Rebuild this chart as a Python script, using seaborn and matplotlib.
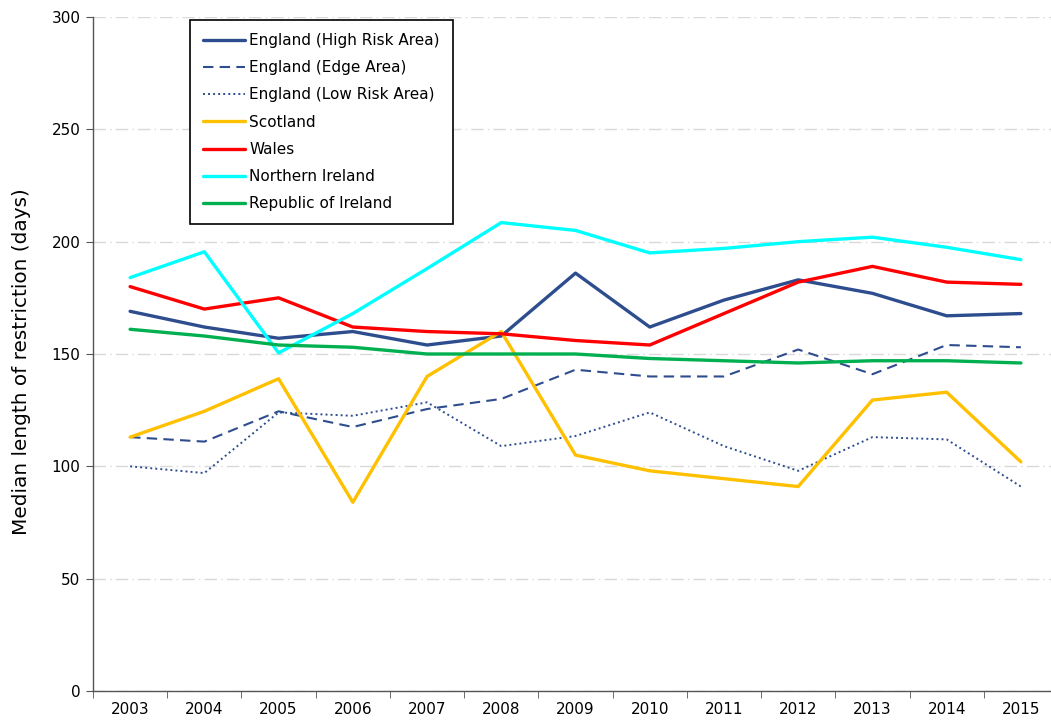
import numpy as np
import pandas as pd
import matplotlib
matplotlib.use('Agg')
import matplotlib.pyplot as plt
import seaborn as sns

years = [2003, 2004, 2005, 2006, 2007, 2008, 2009, 2010, 2011, 2012, 2013, 2014, 2015]

eng_high = [169, 162, 157, 160, 154, 158, 186, 162, 174, 183, 177, 167, 168]
eng_edge = [113, 111, 124.5, 117.5, 125.5, 130, 143, 140, 140, 152, 141, 154, 153]
eng_low = [100, 97, 124, 122.5, 128.5, 109, 113.5, 124, 109, 98, 113, 112, 91]
scotland = [113, 124.5, 139, 84, 140, 160, 105, 98, 94.5, 91, 129.5, 133, 102]
wales = [180, 170, 175, 162, 160, 159, 156, 154, 168, 182, 189, 182, 181]
n_ireland = [184, 195.5, 150.5, 168, 188, 208.5, 205, 195, 197, 200, 202, 197.5, 192]
r_ireland = [161, 158, 154, 153, 150, 150, 150, 148, 147, 146, 147, 147, 146]

series_names = ['England (High Risk Area)', 'England (Edge Area)', 'England (Low Risk Area)',
                'Scotland', 'Wales', 'Northern Ireland', 'Republic of Ireland']
series_vals = [eng_high, eng_edge, eng_low, scotland, wales, n_ireland, r_ireland]
colors = ['#2E4D8E', '#2E4D8E', '#2E4D8E', '#FFC000', '#FF0000', '#00FFFF', '#00B050']
styles = ['-', (0, (5, 3)), (0, (1, 1.6)), '-', '-', '-', '-']
widths = [2.4, 1.5, 1.4, 2.4, 2.4, 2.4, 2.4]

sns.set_style('white')
plt.rcParams['font.family'] = ['DejaVu Sans']
plt.rcParams['text.color'] = 'black'
plt.rcParams['axes.labelcolor'] = 'black'
plt.rcParams['xtick.color'] = 'black'
plt.rcParams['ytick.color'] = 'black'

fig = plt.figure(figsize=(10.51, 7.23), dpi=100)
ax = fig.add_axes([93 / 1051, 32 / 723, 965 / 1051, 674 / 723])

pos = np.arange(len(years))
for name, vals, c, ls, lw in zip(series_names, series_vals, colors, styles, widths):
    df = pd.DataFrame({'x': pos, 'y': vals})
    sns.lineplot(data=df, x='x', y='y', ax=ax, color=c, linestyle=ls, linewidth=lw, label=name)

ax.set_xlim(-0.5, len(years) - 0.5)
ax.set_ylim(0, 300)
ax.set_yticks(np.arange(0, 301, 50))
ax.set_xticks(pos)
ax.set_xticklabels([str(y) for y in years], fontsize=11)
ax.set_xticks(np.arange(-0.5, len(years), 1), minor=True)
ax.tick_params(axis='x', which='major', length=0, pad=8)
ax.tick_params(axis='x', which='minor', length=5, color='#555555', direction='out', bottom=True)
ax.tick_params(axis='y', length=5, color='#555555', direction='out', left=True, labelsize=11, pad=4)
ax.yaxis.grid(True, color='#d9d9d9', linestyle=(0, (9, 3, 1, 3)), linewidth=1.0)
ax.xaxis.grid(False)
ax.set_axisbelow(True)

for s in ['top', 'right']:
    ax.spines[s].set_visible(False)
for s in ['left', 'bottom']:
    ax.spines[s].set_color('#555555')
    ax.spines[s].set_linewidth(1.0)

ax.set_xlabel('')
ax.set_ylabel('Median length of restriction (days)', fontsize=14.4)
ax.yaxis.set_label_coords(-0.064, 0.488)

leg = ax.legend(loc='upper left', bbox_to_anchor=(0.1005, 0.9955), borderaxespad=0,
                fontsize=11, frameon=True, fancybox=False, edgecolor='black', framealpha=1,
                handlelength=2.75, labelspacing=0.8, handletextpad=0.28, borderpad=0.85)
leg.get_frame().set_linewidth(1.2)

fig.savefig('out.png', dpi=100)
